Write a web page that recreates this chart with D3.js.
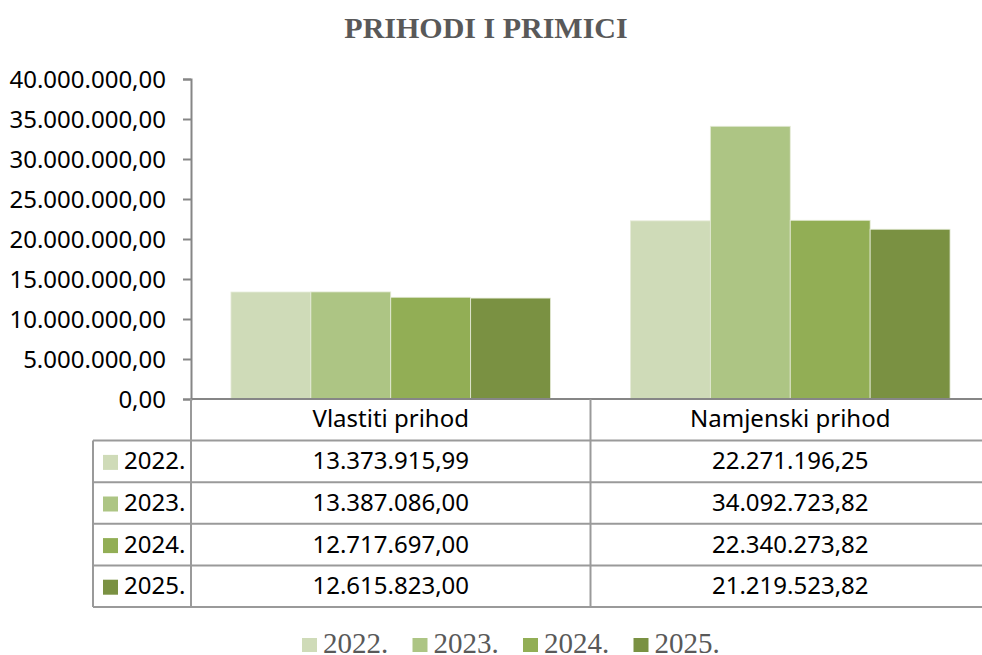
<!DOCTYPE html>
<html>
<head>
<meta charset="utf-8">
<script src="https://cdn.jsdelivr.net/npm/d3@7"></script>
<style>
  body { margin: 0; background: #fff; }
  svg { display: block; }
</style>
</head>
<body>
<div id="chart"></div>
<script>
// data
const categories = ["Vlastiti prihod", "Namjenski prihod"];
const years = ["2022.", "2023.", "2024.", "2025."];
const values2022 = [13373915.99, 22271196.25];
const values2023 = [13387086.00, 34092723.82];
const values2024 = [12717697.00, 22340273.82];
const values2025 = [12615823.00, 21219523.82];
const yTicks = [0, 5000000, 10000000, 15000000, 20000000, 25000000, 30000000, 35000000, 40000000];
const colors = ["#cfdbb8", "#adc584", "#92ae55", "#7a9142"];

const series = [values2022, values2023, values2024, values2025];

// number format 13.373.915,99
const locale = d3.formatLocale({ decimal: ",", thousands: ".", grouping: [3], currency: ["", ""] });
const fmt = locale.format(",.2f");

const width = 982, height = 655;
const plot = { left: 191, right: 990, top: 79, bottom: 399 };
const tableLeft = 93;
const rowH = 41.6;
const fontSize = "24px";

const svg = d3.select("#chart").append("svg")
  .attr("width", width)
  .attr("height", height);

// scales
const x0 = d3.scaleBand().domain(categories).range([plot.left, plot.right]);
const x1 = d3.scaleBand().domain(years).range([0, x0.bandwidth()]).paddingOuter(0.5);
const y = d3.scaleLinear().domain([0, 40000000]).range([plot.bottom, plot.top]);

// title
svg.append("text")
  .attr("x", 486).attr("y", 38)
  .attr("text-anchor", "middle")
  .style("font-family", "'Liberation Serif', serif")
  .style("font-weight", "bold")
  .style("font-size", "30px")
  .style("fill", "#595959")
  .text("PRIHODI I PRIMICI");

// bars
const barGroup = svg.append("g");
categories.forEach((c, ci) => {
  series.forEach((vals, si) => {
    barGroup.append("rect")
      .attr("x", x0(c) + x1(years[si]))
      .attr("y", y(vals[ci]))
      .attr("width", x1.bandwidth())
      .attr("height", y(0) - y(vals[ci]))
      .attr("fill", colors[si])
      .attr("stroke", "#e6ecd9")
      .attr("stroke-width", 0.8);
  });
});

// y axis
const yAxis = d3.axisLeft(y).tickValues(yTicks).tickSize(8).tickPadding(17).tickFormat(fmt);
const yAxisGroup = svg.append("g")
  .attr("transform", `translate(${plot.left},0)`)
  .call(yAxis);
yAxisGroup.select(".domain").attr("stroke", "#868686").attr("stroke-width", 2);
yAxisGroup.selectAll(".tick line").attr("stroke", "#868686").attr("stroke-width", 2);
yAxisGroup.selectAll(".tick text")
  .style("font-family", "'Noto Sans', sans-serif")
  .style("font-size", fontSize)
  .style("fill", "#000")
  .attr("dy", "0.35em");

// data table
const table = svg.append("g");
const lineColor = "#9a9a9a";
const tableBottom = plot.bottom + rowH * (years.length + 1);

// horizontal lines
table.append("line")
  .attr("x1", plot.left).attr("x2", plot.right)
  .attr("y1", plot.bottom).attr("y2", plot.bottom)
  .attr("stroke", "#868686").attr("stroke-width", 2);
d3.range(1, years.length + 2).forEach(i => {
  table.append("line")
    .attr("x1", tableLeft).attr("x2", plot.right)
    .attr("y1", plot.bottom + i * rowH).attr("y2", plot.bottom + i * rowH)
    .attr("stroke", lineColor).attr("stroke-width", 2);
});
// vertical lines
table.append("line")
  .attr("x1", tableLeft).attr("x2", tableLeft)
  .attr("y1", plot.bottom + rowH).attr("y2", tableBottom)
  .attr("stroke", lineColor).attr("stroke-width", 2);
categories.forEach(c => {
  table.append("line")
    .attr("x1", x0(c)).attr("x2", x0(c))
    .attr("y1", plot.bottom).attr("y2", tableBottom)
    .attr("stroke", lineColor).attr("stroke-width", 2);
});
table.append("line")
  .attr("x1", plot.right - 1).attr("x2", plot.right - 1)
  .attr("y1", plot.bottom).attr("y2", tableBottom)
  .attr("stroke", lineColor).attr("stroke-width", 2);

const cellText = sel => sel
  .attr("text-anchor", "middle")
  .style("font-family", "'Noto Sans', sans-serif")
  .style("font-size", fontSize)
  .style("fill", "#000");

// header row
categories.forEach(c => {
  table.append("text")
    .attr("x", x0(c) + x0.bandwidth() / 2)
    .attr("y", plot.bottom + rowH / 2 + 7)
    .call(cellText)
    .text(c);
});

// value rows
years.forEach((yr, si) => {
  const rowMid = plot.bottom + rowH * (si + 1) + rowH / 2;
  table.append("rect")
    .attr("x", 103).attr("y", rowMid - 6.5)
    .attr("width", 15).attr("height", 15)
    .attr("fill", colors[si]);
  table.append("text")
    .attr("x", 124).attr("y", rowMid + 8)
    .style("font-family", "'Noto Sans', sans-serif")
    .style("font-size", fontSize)
    .style("fill", "#000")
    .text(yr);
  categories.forEach((c, ci) => {
    table.append("text")
      .attr("x", x0(c) + x0.bandwidth() / 2)
      .attr("y", rowMid + 8)
      .call(cellText)
      .text(fmt(series[si][ci]));
  });
});

// legend
const legend = svg.append("g");
years.forEach((yr, i) => {
  const lx = 302 + i * 110.5;
  legend.append("rect")
    .attr("x", lx).attr("y", 638)
    .attr("width", 15).attr("height", 14)
    .attr("fill", colors[i]);
  legend.append("text")
    .attr("x", lx + 21).attr("y", 653)
    .style("font-family", "'Liberation Serif', serif")
    .style("font-size", "29px")
    .style("fill", "#595959")
    .text(yr);
});
</script>
</body>
</html>
